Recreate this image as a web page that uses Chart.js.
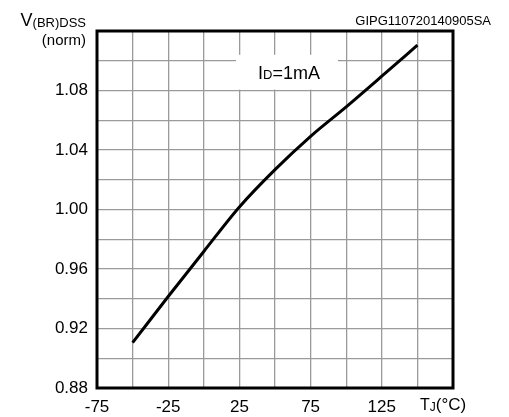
<!DOCTYPE html>
<html>
<head>
<meta charset="utf-8">
<script src="https://cdn.jsdelivr.net/npm/chart.js"></script>
<style>
  html, body { margin: 0; padding: 0; background: #fff; }
  #wrap { width: 509px; height: 417px; }
</style>
</head>
<body>
<div id="wrap"><canvas id="c" width="509" height="417"></canvas></div>
<script>
// values (Tj in °C, normalised V(BR)DSS)
const tempC = [-50, -25, 0, 25, 50, 75, 100, 125, 150];
const vbrNorm = [0.9105, 0.9415, 0.9718, 1.0017, 1.0268, 1.0492, 1.069, 1.0896, 1.1105];

// which ticks get a printed label
const xLabels = [-75, -25, 25, 75, 125];
const yLabels = [0.88, 0.92, 0.96, 1.00, 1.04, 1.08];

const FONT = '"Liberation Sans", Arial, sans-serif';

// draws text with a subscript part: parts = [[text, size, dy], ...]
function drawParts(ctx, parts, x, y, align) {
  let total = 0;
  parts.forEach(p => { ctx.font = p[1] + 'px ' + FONT; total += ctx.measureText(p[0]).width; });
  let cx = align === 'right' ? x - total : (align === 'center' ? x - total / 2 : x);
  ctx.textAlign = 'left';
  ctx.textBaseline = 'alphabetic';
  parts.forEach(p => {
    ctx.font = p[1] + 'px ' + FONT;
    ctx.fillText(p[0], cx, y + (p[2] || 0));
    cx += ctx.measureText(p[0]).width;
  });
}

const frameAndText = {
  id: 'frameAndText',
  beforeDatasetsDraw(chart) {
    const ctx = chart.ctx;
    const x = chart.scales.x, y = chart.scales.y;
    // white label box over the grid
    const bx0 = x.getPixelForValue(22.6), bx1 = x.getPixelForValue(94.2);
    const by0 = y.getPixelForValue(1.104), by1 = y.getPixelForValue(1.0806);
    ctx.save();
    ctx.fillStyle = '#fff';
    ctx.fillRect(bx0, by0, bx1 - bx0, by1 - by0);
    ctx.fillStyle = '#000';
    drawParts(ctx, [['I', 18], ['D', 13], ['=1mA', 18]], (bx0 + bx1) / 2 + 2, by0 + 24, 'center');
    ctx.restore();
  },
  afterDraw(chart) {
    const ctx = chart.ctx;
    const a = chart.chartArea;
    ctx.save();
    ctx.strokeStyle = '#000';
    ctx.lineWidth = 3;
    ctx.strokeRect(a.left, a.top, a.right - a.left, a.bottom - a.top);
    ctx.fillStyle = '#000';
    // y title
    drawParts(ctx, [['V', 18], ['(BR)DSS', 13, 1]], 86, 26, 'right');
    ctx.font = '15px ' + FONT;
    ctx.textAlign = 'right';
    ctx.fillText('(norm)', 86, 45);
    // figure code
    ctx.font = '13px ' + FONT;
    ctx.fillText('GIPG110720140905SA', 491, 25);
    // x title
    drawParts(ctx, [['T', 16], ['J', 12, 1], ['(°C)', 17]], 420, 410, 'left');
    ctx.restore();
  }
};

new Chart(document.getElementById('c'), {
  type: 'line',
  data: {
    datasets: [{
      data: tempC.map((t, i) => ({ x: t, y: vbrNorm[i] })),
      borderColor: '#000',
      borderWidth: 3,
      pointRadius: 0,
      cubicInterpolationMode: 'monotone',
      fill: false
    }]
  },
  options: {
    responsive: false,
    animation: false,
    devicePixelRatio: 1,
    layout: { padding: { top: 31, right: 56, left: 0, bottom: 0 } },
    plugins: { legend: { display: false }, tooltip: { enabled: false } },
    scales: {
      x: {
        type: 'linear',
        min: -75, max: 175,
        afterFit(s) { s.height = 29; },
        border: { display: false },
        grid: { color: '#9a9a9a', lineWidth: 1.3, drawTicks: false },
        ticks: {
          stepSize: 25,
          padding: 9,
          maxRotation: 0,
          autoSkip: false,
          color: '#000',
          font: { family: FONT, size: 17 },
          callback: v => xLabels.includes(v) ? String(v) : ''
        }
      },
      y: {
        min: 0.88, max: 1.12,
        afterFit(s) { s.width = 97; },
        border: { display: false },
        grid: { color: '#9a9a9a', lineWidth: 1.3, drawTicks: false },
        ticks: {
          stepSize: 0.02,
          padding: 9,
          autoSkip: false,
          color: '#000',
          font: { family: FONT, size: 17 },
          callback: v => yLabels.some(l => Math.abs(l - v) < 1e-6) ? v.toFixed(2) : ''
        }
      }
    }
  },
  plugins: [frameAndText]
});
</script>
</body>
</html>
